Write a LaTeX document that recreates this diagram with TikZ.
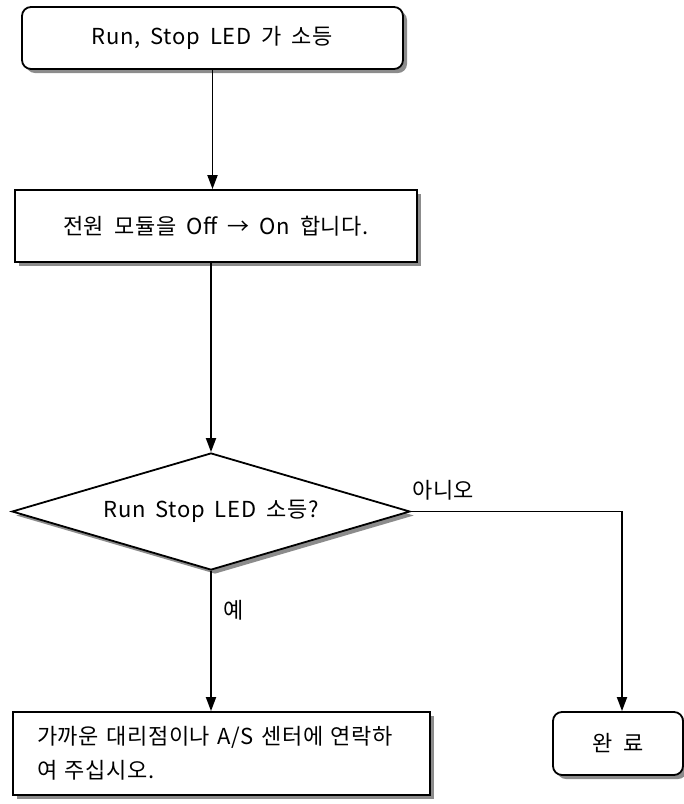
\documentclass[tikz,border=0pt]{standalone}
\usepackage{fontspec}
\setmainfont{Noto Sans CJK KR}[WordSpace=1.8, LetterSpace=3]
\usetikzlibrary{positioning,arrows.meta,shapes.geometric,shadows}

\begin{document}
\begin{tikzpicture}[
  x=1pt, y=-1pt,
  font=\fontsize{22}{34}\selectfont,
  shade/.style={drop shadow={shadow xshift=4pt, shadow yshift=-4pt, fill=black!45, opacity=1}},
  box/.style={draw, line width=1.8pt, fill=white, shade, inner sep=0pt, align=center},
  rbox/.style={box, rounded corners=9pt},
  decide/.style={draw, line width=1.8pt, fill=white, shade, diamond, aspect=3.4, inner sep=0pt},
  lab/.style={inner sep=1pt},
  >={Triangle[length=14pt,width=10pt]}
]
\useasboundingbox (0,0) rectangle (684,804);
\node[rbox, minimum width=381pt, minimum height=62pt] (start) at (212.5,38) {Run, Stop LED 가 소등};
\node[box, minimum width=402pt, minimum height=72pt] (power) at (216,226) {전원 모듈을 Off → On 합니다.};
\node[decide, minimum width=398pt, minimum height=117pt] (check) at (211,511.5) {Run Stop LED 소등?};
\node[box, minimum width=417pt, minimum height=83pt, align=left, text width=369pt, inner xsep=24pt] (call) at (221.5,753.5)
  {가까운 대리점이나 A/S 센터에 연락하\\여 주십시오.};
\node[rbox, minimum width=130pt, minimum height=63pt] (done) at (618,743.5) {완 료};

\draw[->, line width=1.8pt] (start.south) -- (start.south |- power.north);
\draw[->, line width=1.8pt] (check.north |- power.south) -- (check.north);
\draw[->, line width=1.8pt] (check.south) -- (check.south |- call.north);
\draw[->, line width=1.8pt] (check.east) -| ([xshift=4pt]done.north);
\node[lab, anchor=south west] (no) at ([xshift=0pt,yshift=10pt]check.east) {아니오};
\node[lab, anchor=west] (yes) at (222,610) {예};
\end{tikzpicture}
\end{document}
